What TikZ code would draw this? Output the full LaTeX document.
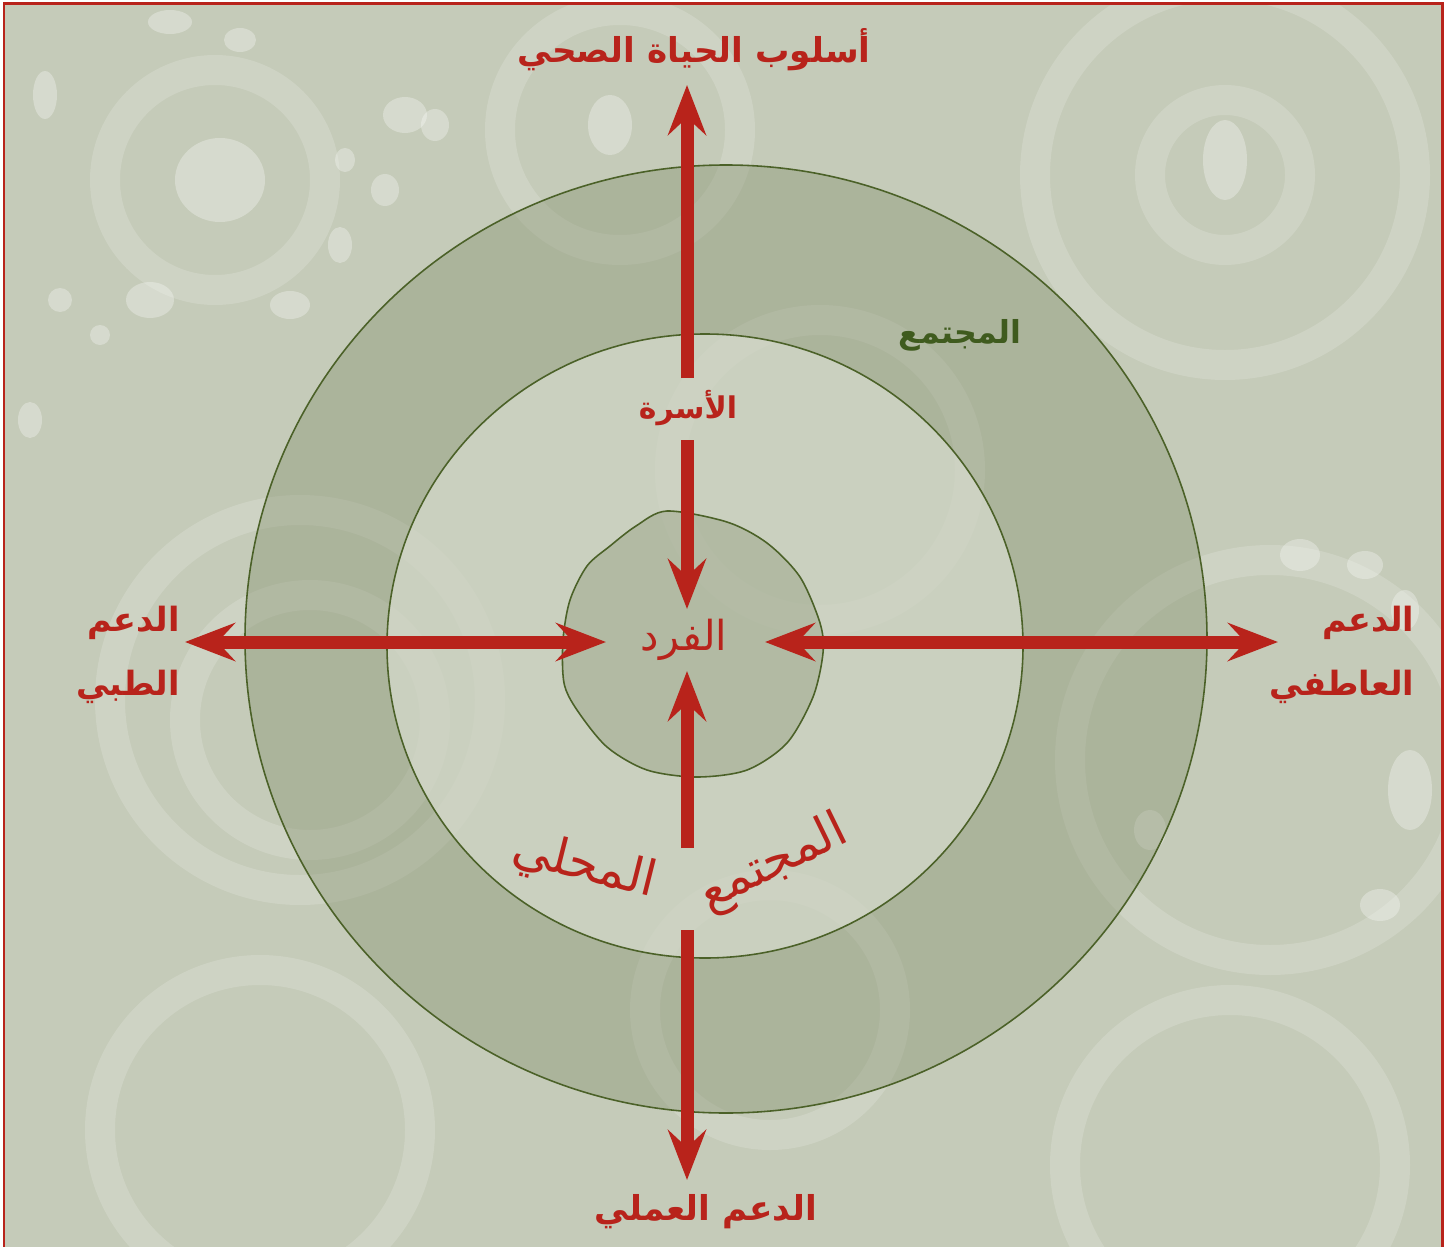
\documentclass[tikz,border=0pt]{standalone}
\usepackage{fontspec}
\newfontfamily\arabicfont[Script=Arabic]{DejaVu Sans}
\TeXXeTstate=1
\usetikzlibrary{arrows.meta}

\definecolor{bgcol}{HTML}{C5CBB9}
\definecolor{redcol}{HTML}{B8231B}
\definecolor{greencol}{HTML}{3F5B1E}
\definecolor{linecol}{HTML}{4B6128}
\definecolor{shadecol}{HTML}{869270}
\definecolor{lightcol}{HTML}{E0E4D8}

\begin{document}
\begin{tikzpicture}[
  x=0.02cm,
  y=-0.02cm,
  ringline/.style={draw=linecol,line width=0.9pt},
  texring/.style={draw=white,line width=0.6cm,opacity=0.16},
  texdot/.style={fill=white,opacity=0.3},
  arrow/.style={draw=redcol,line width=0.26cm,-{Stealth[length=1cm,width=0.76cm,inset=0.35cm]}},
  twoway/.style={arrow,{Stealth[length=1cm,width=0.76cm,inset=0.35cm]}-{Stealth[length=1cm,width=0.76cm,inset=0.35cm]}},
  redlabel/.style={text=redcol,inner sep=1pt,font={\arabicfont\bfseries\fontsize{17}{22}\selectfont}},
  sidelabel/.style={redlabel,align=right,font={\arabicfont\bfseries\fontsize{19}{36}\selectfont}},
  curvelabel/.style={text=redcol,inner sep=0pt,font={\arabicfont\fontsize{28}{32}\selectfont}}
]
\useasboundingbox (0,0) rectangle (1450,1247);

% Background and frame
\fill[white] (0,0) rectangle (1450,1247);
\fill[bgcol] (4,4) rectangle (1442,1247);

% Watercolour texture
\begin{scope}
  \clip (4,4) rectangle (1442,1247);
  \foreach \cx/\cy/\r in {215/180/110,1225/175/190,1225/175/75,1270/760/200,
                          1230/1165/165,260/1130/160,820/470/150,310/720/125,
                          770/1010/125,620/130/120,300/700/190}
    \draw[texring] (\cx,\cy) circle (\r);
  \foreach \cx/\cy/\a/\b in {220/180/45/42,405/115/22/18,435/125/14/16,385/190/14/16,
                              45/95/12/24,170/22/22/12,60/300/12/12,100/335/10/10,
                              340/245/12/18,290/305/20/14,150/300/24/18,345/160/10/12,
                              610/125/22/30,1300/555/20/16,1365/565/18/14,1405/610/14/20,
                              1410/790/22/40,1380/905/20/16,1150/830/16/20,1225/160/22/40,
                              30/420/12/18,240/40/16/12}
    \fill[texdot] (\cx,\cy) ellipse [x radius=\a, y radius=\b];
\end{scope}

% Frame
\draw[redcol,line width=0.06cm] (4,1247) -- (4,4) -- (1442,4) -- (1442,1247);

% Rings
\path[ringline,fill=shadecol,fill opacity=0.4] (726,639) ellipse [x radius=481, y radius=474];
\path[ringline,fill=lightcol,fill opacity=0.6] (705,646) ellipse [x radius=318, y radius=312];
\path[ringline,fill=shadecol,fill opacity=0.35] plot[smooth cycle] coordinates {
  (667,511) (727,522) (767,543) (800,577) (820,623) (823,653) (813,697)
  (787,743) (747,770) (697,777) (647,770) (607,747) (577,710) (564,683)
  (563,640) (570,600) (587,566) (610,546) (636,526)};

% Labels
\node[redlabel,font={\arabicfont\bfseries\fontsize{19.5}{24}\selectfont}] (lifestyle) at (694,50)
  {\beginR أسلوب الحياة الصحي\endR};
\node[redlabel] (family) at (688,408) {\beginR الأسرة\endR};
\node[text=greencol,font={\arabicfont\bfseries\fontsize{18}{22}\selectfont}] (society) at (960,335)
  {\beginR المجتمع\endR};
\node[redlabel,font={\arabicfont\fontsize{23.5}{28}\selectfont}] (individual) at (684,640)
  {\beginR الفرد\endR};
\node[sidelabel] (medical) at (128,655) {\beginR الدعم\endR\\\beginR الطبي\endR};
\node[sidelabel] (emotional) at (1342,655) {\beginR الدعم\endR\\\beginR العاطفي\endR};
\node[redlabel,font={\arabicfont\bfseries\fontsize{19.5}{24}\selectfont}] (practical) at (706,1212)
  {\beginR الدعم العملي\endR};

% Curved label
\node[curvelabel,rotate=26] (commA) at (774,864) {\beginR المجتمع\endR};
\node[curvelabel,rotate=-14] (commB) at (584,867) {\beginR المحلي\endR};

% Arrow ends
\coordinate (lifeTip) at (687,85);
\coordinate (famTop) at (687,378);
\coordinate (famBot) at (687,440);
\coordinate (indN) at (687,609);
\coordinate (indS) at (687,671);
\coordinate (indW) at (606,642);
\coordinate (indE) at (765,642);
\coordinate (medTip) at (185,642);
\coordinate (emoTip) at (1278,642);
\coordinate (commTop) at (687,848);
\coordinate (commBot) at (687,930);
\coordinate (pracTip) at (687,1180);

% Arrows
\draw[arrow] (famTop) -- (lifeTip);
\draw[arrow] (famBot) -- (indN);
\draw[arrow] (commTop) -- (indS);
\draw[arrow] (commBot) -- (pracTip);
\draw[twoway] (medTip) -- (indW);
\draw[twoway] (indE) -- (emoTip);

\end{tikzpicture}
\end{document}
